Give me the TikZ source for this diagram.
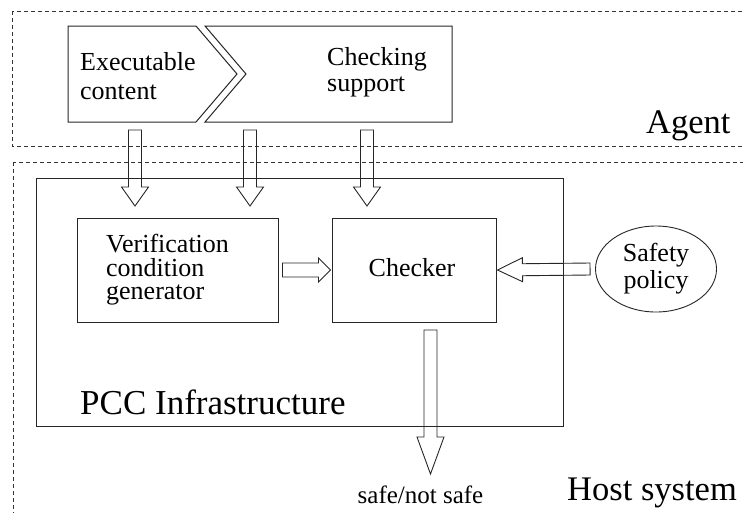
\documentclass[tikz,border=0pt]{standalone}
\usepackage{fontspec}
\setmainfont{Liberation Serif}
\usetikzlibrary{calc,shapes.geometric}
\newcommand\blockarrow[5]{%
  \coordinate (ba-hb) at ($(#2)!#5!(#1)$);
  \draw[blk] ($(#1)!#3!90:(#2)$) -- ($(ba-hb)!#3!90:(#2)$) -- ($(ba-hb)!#4!90:(#2)$) -- (#2)
    -- ($(ba-hb)!#4!-90:(#2)$) -- ($(ba-hb)!#3!-90:(#2)$) -- ($(#1)!#3!-90:(#2)$) -- cycle;}
\begin{document}
\begin{tikzpicture}[x=1pt,y=-1pt,
  dashbox/.style={draw=black!80,line width=0.8pt,dash pattern=on 4pt off 3pt},
  solidbox/.style={draw=black!85,line width=1pt},
  blk/.style={draw=black!85,line width=0.9pt,line join=miter},
  bodytext/.style={font=\fontsize{26}{28}\selectfont,inner sep=0pt},
  bigtext/.style={font=\fontsize{35}{40}\selectfont,inner sep=0pt}]
\useasboundingbox (0,0) rectangle (743,512);
\clip (0,0) rectangle (743,512);
% regions
\draw[dashbox] (12,11) rectangle (760,146);
\draw[dashbox] (13,162) rectangle (760,540);
\node[bigtext,anchor=base west,font=\fontsize{34.5}{40}\selectfont] (agent) at (646,133) {Agent};
\node[bigtext,anchor=base west,font=\fontsize{34.5}{40}\selectfont] (host) at (567,500) {Host system};
% agent shapes
\draw[solidbox,line join=miter] (68,26) coordinate (exnw) -- (196,26) -- (237,74) coordinate (extip) -- (196,122) -- (68,122) coordinate (exsw) -- cycle;
\draw[solidbox,line join=miter] (205,26) coordinate (chnw) -- (452,26) -- (452,122) coordinate (chse) -- (205,122) -- (246,74) -- cycle;
\node[bodytext,align=left,anchor=west,font=\fontsize{26}{29}\selectfont] (exec) at (80,76) {Executable\\content};
\node[bodytext,align=left,anchor=west,font=\fontsize{26}{26}\selectfont] (chk) at (327,72) {Checking\\support};
% PCC
\node[solidbox,minimum width=527pt,minimum height=248pt,inner sep=0pt] (pcc) at (299.5,302) {};
\node[bigtext,anchor=base west] (pcclabel) at (80,414) {PCC Infrastructure};
\node[solidbox,minimum width=201pt,minimum height=104pt,inner sep=0pt] (vcg) at (177.5,270) {};
\node[bodytext,align=left,anchor=west,font=\fontsize{26}{23.5}\selectfont] (vcgtext) at (106,270) {Verification\\condition\\generator};
\node[solidbox,minimum width=164pt,minimum height=104pt,inner sep=0pt] (checker) at (414,270) {};
\node[bodytext] (checkertext) at (412,268) {Checker};
\node[draw=black!85,line width=0.9pt,ellipse,minimum width=121pt,minimum height=86pt,inner sep=0pt,align=center,font=\fontsize{26}{27}\selectfont] (safety) at (656,269) {Safety\\policy};
% arrows
\coordinate (a1s) at (135,130); \coordinate (a1t) at (135,206);
\coordinate (a2s) at (250,130); \coordinate (a2t) at (250,206);
\coordinate (a3s) at (367,130); \coordinate (a3t) at (367,206);
\coordinate (a4s) at ($(vcg.east)+(4,0)$); \coordinate (a4t) at ($(checker.west)+(-1,0)$);
\coordinate (a5s) at ($(safety.west)+(-5,0)$); \coordinate (a5t) at ($(checker.east)+(1,0)$);
\coordinate (a6s) at (430.5,330); \coordinate (a6t) at (430.5,474);
\blockarrow{a1s}{a1t}{6.5pt}{13.5pt}{19pt}
\blockarrow{a2s}{a2t}{6.5pt}{13.5pt}{19pt}
\blockarrow{a3s}{a3t}{6.5pt}{13.5pt}{19pt}
\blockarrow{a4s}{a4t}{7pt}{12pt}{12pt}
\blockarrow{a5s}{a5t}{6pt}{12pt}{25pt}
\blockarrow{a6s}{a6t}{6.5pt}{13.5pt}{37pt}
\node[bodytext,anchor=base,font=\fontsize{25}{27}\selectfont] (result) at (420.5,503) {safe/not safe};
\end{tikzpicture}
\end{document}
